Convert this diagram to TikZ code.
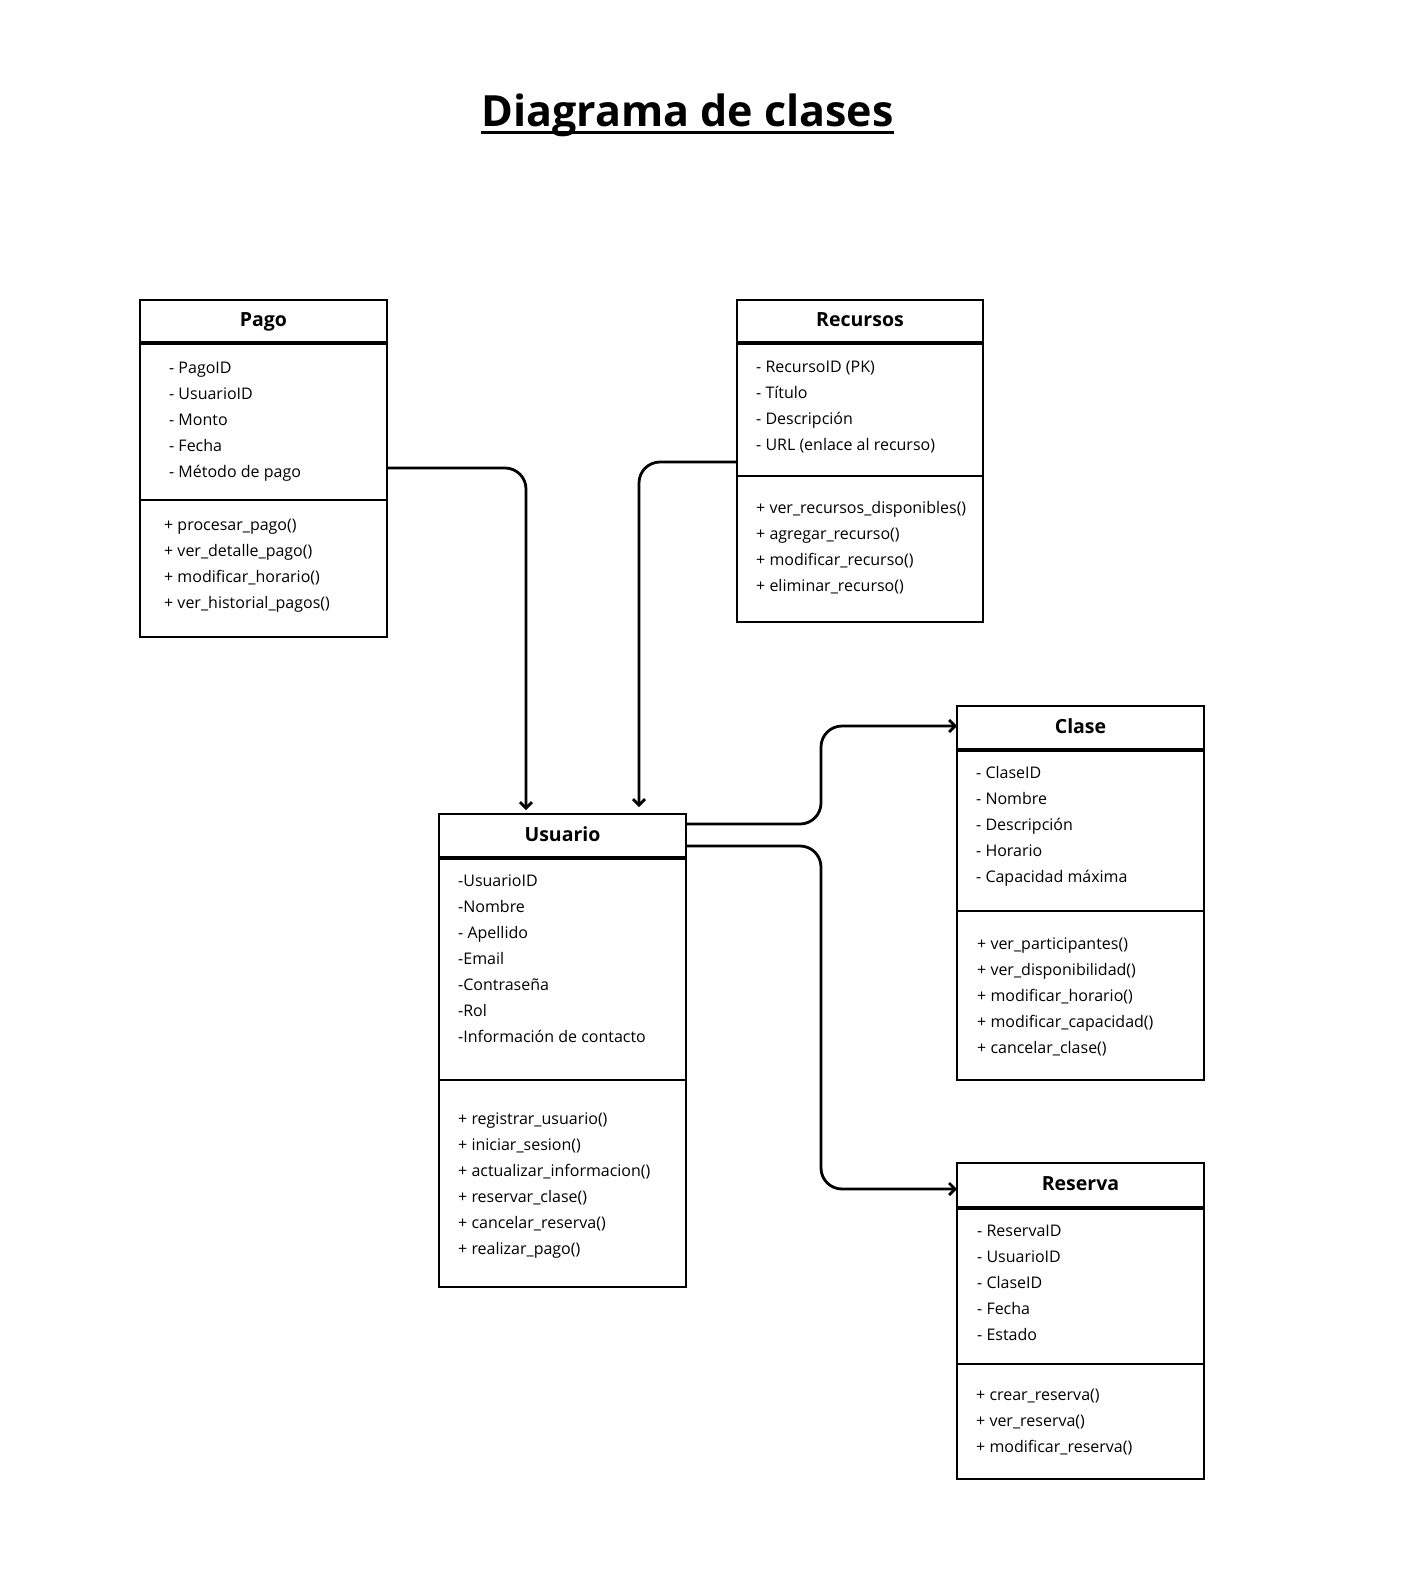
\documentclass[tikz,border=0pt]{standalone}
\usepackage{fontspec}
\setmainfont{Open Sans}
\usepackage{tikz}
\usetikzlibrary{arrows.meta, positioning, calc}

\begin{document}
\begin{tikzpicture}[
  x=1pt, y=-1pt,
  head/.style={draw, line width=2.8pt, outer sep=0pt, anchor=north west, minimum width=247pt, minimum height=44pt, text height=14pt, text depth=4pt, font=\fontsize{19.5}{22}\selectfont\bfseries},
  part/.style={draw, line width=2.8pt, outer sep=0pt, anchor=north west, minimum width=247pt},
  attr/.style={anchor=base west, inner sep=0pt, font=\fontsize{16}{19}\selectfont},
  maintitle/.style={anchor=base, inner sep=0pt, font=\fontsize{43}{48}\selectfont\bfseries},
  conn/.style={line width=2.8pt, rounded corners=21pt, -{Straight Barb[length=6pt, width=12pt]}}
]
\fill[white] (0,0) rectangle (1408,1593);
\useasboundingbox (0,0) rectangle (1408,1593);

\node[maintitle] (titulo) at (687.5,126) {Diagrama de clases};
\draw[line width=3pt] ([yshift=-6pt]titulo.base west) -- ([yshift=-6pt]titulo.base east);

% Pago
\node[head, minimum height=43pt] (pagoH) at (140,300) {Pago};
\node[part, minimum height=157pt] (pagoAttr) at (pagoH.south west) {};
\node[part, minimum height=137pt] (pagoMet) at (pagoAttr.south west) {};
\foreach \t [count=\i] in {{- PagoID}, {- UsuarioID}, {- Monto}, {- Fecha}, {- Método de pago}}
  \node[attr] (pagoa\i) at (169,347+26*\i) {\t};
\foreach \t [count=\i] in {{+ procesar\_pago()}, {+ ver\_detalle\_pago()}, {+ modificar\_horario()}, {+ ver\_historial\_pagos()}}
  \node[attr] (pagom\i) at (164,504+26*\i) {\t};

% Recursos
\node[head, minimum width=246pt, minimum height=43pt] (recursosH) at (737,300) {Recursos};
\node[part, minimum width=246pt, minimum height=133pt] (recursosAttr) at (recursosH.south west) {};
\node[part, minimum width=246pt, minimum height=146pt] (recursosMet) at (recursosAttr.south west) {};
\foreach \t [count=\i] in {{- RecursoID (PK)}, {- Título}, {- Descripción}, {- URL (enlace al recurso)}}
  \node[attr] (recursosa\i) at (756,346+26*\i) {\t};
\foreach \t [count=\i] in {{+ ver\_recursos\_disponibles()}, {+ agregar\_recurso()}, {+ modificar\_recurso()}, {+ eliminar\_recurso()}}
  \node[attr] (recursosm\i) at (756,487+26*\i) {\t};

% Usuario
\node[head] (usuarioH) at (439,814) {Usuario};
\node[part, minimum height=222pt] (usuarioAttr) at (usuarioH.south west) {};
\node[part, minimum height=207pt] (usuarioMet) at (usuarioAttr.south west) {};
\foreach \t [count=\i] in {{-UsuarioID}, {-Nombre}, {- Apellido}, {-Email}, {-Contraseña}, {-Rol}, {-Información de contacto}}
  \node[attr] (usuarioa\i) at (458,860+26*\i) {\t};
\foreach \t [count=\i] in {{+ registrar\_usuario()}, {+ iniciar\_sesion()}, {+ actualizar\_informacion()}, {+ reservar\_clase()}, {+ cancelar\_reserva()}, {+ realizar\_pago()}}
  \node[attr] (usuariom\i) at (458,1098+26*\i) {\t};

% Clase
\node[head] (claseH) at (957,706) {Clase};
\node[part, minimum height=161pt] (claseAttr) at (claseH.south west) {};
\node[part, minimum height=169pt] (claseMet) at (claseAttr.south west) {};
\foreach \t [count=\i] in {{- ClaseID}, {- Nombre}, {- Descripción}, {- Horario}, {- Capacidad máxima}}
  \node[attr] (clasea\i) at (976,752+26*\i) {\t};
\foreach \t [count=\i] in {{+ ver\_participantes()}, {+ ver\_disponibilidad()}, {+ modificar\_horario()}, {+ modificar\_capacidad()}, {+ cancelar\_clase()}}
  \node[attr] (clasem\i) at (977,923+26*\i) {\t};

% Reserva
\node[head, minimum height=45pt] (reservaH) at (957,1163) {Reserva};
\node[part, minimum height=156pt] (reservaAttr) at (reservaH.south west) {};
\node[part, minimum height=115pt] (reservaMet) at (reservaAttr.south west) {};
\foreach \t [count=\i] in {{- ReservaID}, {- UsuarioID}, {- ClaseID}, {- Fecha}, {- Estado}}
  \node[attr] (reservaa\i) at (977,1210+26*\i) {\t};
\foreach \t [count=\i] in {{+ crear\_reserva()}, {+ ver\_reserva()}, {+ modificar\_reserva()}}
  \node[attr] (reservam\i) at (976,1374+26*\i) {\t};

% thicker line under the class names
\foreach \c in {pago, recursos, usuario, clase, reserva}
  \draw[line width=3.6pt] (\c H.south west) -- (\c H.south east);

\draw[conn, shorten >=4pt] ([yshift=32pt]pagoAttr.south east) -| ([xshift=-36.5pt]usuarioH.north);
\draw[conn, shorten >=7pt] ([yshift=14pt]recursosAttr.south west) -| ([xshift=76.5pt]usuarioH.north);
\draw[conn] ([yshift=-10pt]usuarioH.north east) -- ++(135,0) |- ([yshift=2pt]claseH.west);
\draw[conn] ([yshift=-32pt]usuarioH.north east) -- ++(135,0) |- ([yshift=-3.5pt]reservaH.west);

\end{tikzpicture}
\end{document}
